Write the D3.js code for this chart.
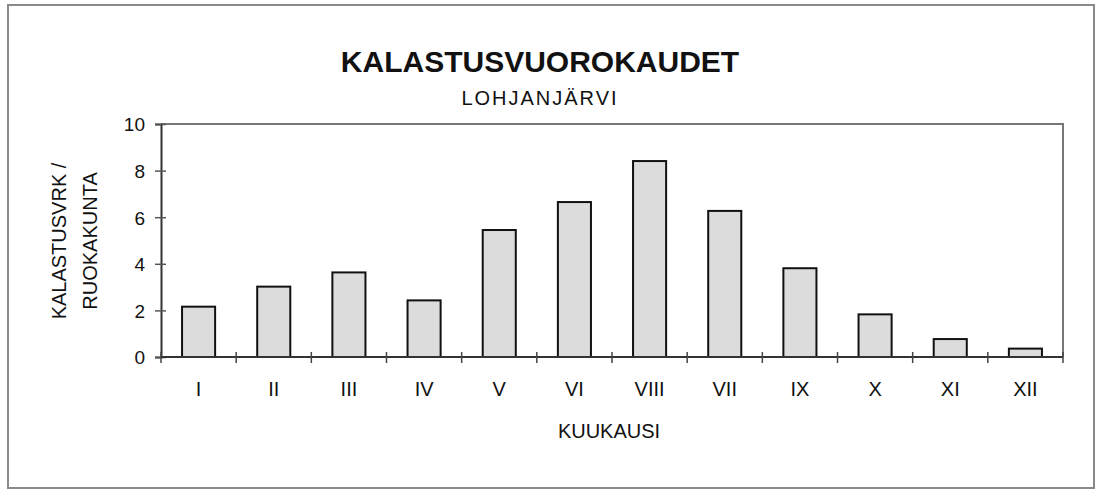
<!DOCTYPE html>
<html>
<head>
<meta charset="utf-8">
<script src="https://cdn.jsdelivr.net/npm/d3@7"></script>
<style>
  html, body { margin: 0; padding: 0; background: #fff; }
  svg { display: block; }
  text { font-family: "Liberation Sans", Arial, sans-serif; fill: #111; }
</style>
</head>
<body>
<svg id="chart" width="1097" height="490"></svg>
<script>
const categories = ["I", "II", "III", "IV", "V", "VI", "VIII", "VII", "IX", "X", "XI", "XII"];
const values = [2.16, 3.02, 3.63, 2.43, 5.45, 6.65, 8.41, 6.27, 3.81, 1.83, 0.77, 0.36];
const yTicks = [0, 2, 4, 6, 8, 10];
const title = "KALASTUSVUOROKAUDET";
const subtitle = "LOHJANJÄRVI";
const xTitle = "KUUKAUSI";
const yTitleLines = ["KALASTUSVRK /", "RUOKAKUNTA"];

const svg = d3.select("#chart");
const plot = { left: 161, right: 1063, top: 124, bottom: 357 };

// outer frame
svg.append("rect").attr("x", 8).attr("y", 5).attr("width", 1086).attr("height", 483)
  .attr("fill", "none").attr("stroke", "#8a8a8a").attr("stroke-width", 2);

const x = d3.scaleBand().domain(categories).range([plot.left, plot.right]).paddingInner(0.56).paddingOuter(0.28);
const xb = d3.scaleBand().domain(categories).range([plot.left, plot.right]);
const y = d3.scaleLinear().domain([0, 10]).range([plot.bottom, plot.top]);

// top and right border of plot area
svg.append("path")
  .attr("d", `M${plot.left},${plot.top}H${plot.right}V${plot.bottom}`)
  .attr("fill", "none").attr("stroke", "#777").attr("stroke-width", 2);

// bars
svg.append("g").selectAll("rect").data(values).join("rect")
  .attr("x", (d, i) => x(categories[i]))
  .attr("y", d => y(d))
  .attr("width", x.bandwidth())
  .attr("height", d => y(0) - y(d))
  .attr("fill", "#dcdcdc")
  .attr("stroke", "#111")
  .attr("stroke-width", 2);

// y axis
const yAxis = svg.append("g").attr("transform", `translate(${plot.left},0)`)
  .call(d3.axisLeft(y).tickValues(yTicks).tickSize(6).tickPadding(10).tickFormat(d3.format("d")));
yAxis.select(".domain").attr("stroke", "#333").attr("stroke-width", 2);
yAxis.selectAll(".tick line").attr("stroke", "#555").attr("stroke-width", 1.5).attr("x2", -6).attr("x1", 5);
yAxis.selectAll(".tick text").attr("font-size", 19).attr("font-family", "Liberation Sans, Arial, sans-serif").attr("fill", "#111").attr("dy", "0.36em");

// x axis
const xAxisG = svg.append("g").attr("transform", `translate(0,${plot.bottom})`);
xAxisG.append("line").attr("x1", plot.left).attr("x2", plot.right).attr("stroke", "#333").attr("stroke-width", 2);
const boundaries = categories.map(c => xb(c)).concat([plot.right]);
xAxisG.selectAll("line.tk").data(boundaries).join("line").attr("class", "tk")
  .attr("x1", d => d).attr("x2", d => d).attr("y1", -5).attr("y2", 6)
  .attr("stroke", "#444").attr("stroke-width", 1.5);
xAxisG.selectAll("text").data(categories).join("text")
  .attr("x", d => xb(d) + xb.bandwidth() / 2)
  .attr("y", 39)
  .attr("text-anchor", "middle")
  .attr("font-size", 20)
  .text(d => d);

// titles
svg.append("text").attr("x", 540).attr("y", 72).attr("text-anchor", "middle")
  .attr("font-size", 30).attr("font-weight", "bold").text(title);
svg.append("text").attr("x", 540).attr("y", 105).attr("text-anchor", "middle")
  .attr("font-size", 20).attr("letter-spacing", 2).text(subtitle);
svg.append("text").attr("x", 609).attr("y", 438).attr("text-anchor", "middle")
  .attr("font-size", 20).text(xTitle);

const yt = svg.append("text").attr("transform", "translate(0,0)")
  .attr("text-anchor", "middle").attr("font-size", 20);
yTitleLines.forEach((line, i) => {
  svg.append("text")
    .attr("transform", `translate(${66 + i * 31},${241}) rotate(-90)`)
    .attr("text-anchor", "middle").attr("font-size", 20).text(line);
});
</script>
</body>
</html>
